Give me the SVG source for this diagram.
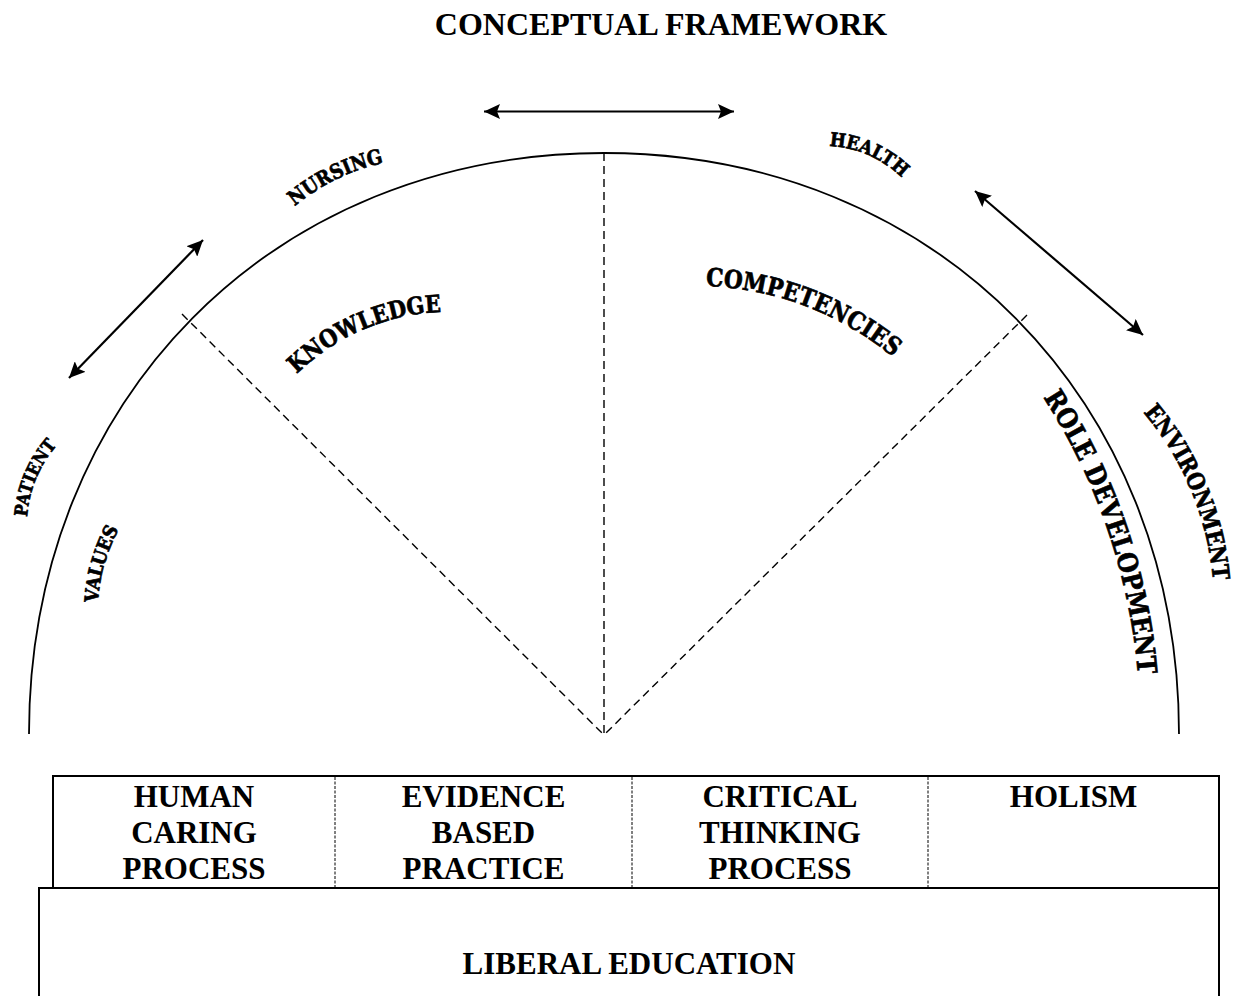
<svg xmlns="http://www.w3.org/2000/svg" width="1233" height="996" viewBox="0 0 1233 996">
<style>
.bg{fill:#fff}
.title{font-family:"Liberation Serif","Times New Roman",serif;font-weight:bold;font-size:32px;text-anchor:middle;fill:#000}
.box{fill:none;stroke:#000;stroke-width:2}
.div{stroke:#000;stroke-width:1;stroke-dasharray:3 1.5}
.bt{font-family:"Liberation Serif","Times New Roman",serif;font-weight:bold;font-size:31px;text-anchor:middle;fill:#000}
.arc{fill:none;stroke:#000;stroke-width:1.8}
.dash{stroke:#000;stroke-width:1.4;stroke-dasharray:8 5;fill:none}
.arrow{stroke:#000;stroke-width:2.2;fill:none;marker-start:url(#ah);marker-end:url(#ah)}
.wa{font-family:"DejaVu Serif",serif;font-weight:bold;fill:#000;stroke:#000;stroke-width:0.7;text-anchor:middle}
</style>
<defs>
<marker id="ah" viewBox="0 0 16 15" refX="16" refY="7.5" markerWidth="16" markerHeight="15" markerUnits="userSpaceOnUse" orient="auto-start-reverse">
<path d="M0,0 L16,7.5 L0,15 L3,7.5 z" fill="#000"/>
</marker>
<path id="p-nursing" d="M295,206 A207,207 0 0 1 383,163"/>
<path id="p-knowledge" d="M297,374 A217,217 0 0 1 441,312"/>
<path id="p-competencies" d="M706,286 A313,313 0 0 1 893,357"/>
<path id="p-health" d="M829,146 A110,110 0 0 1 902,178"/>
<path id="p-patient" d="M27,517 A126,126 0 0 1 57,445"/>
<path id="p-values" d="M98,603 A172.6,172.6 0 0 1 119,529"/>
<path id="p-role" d="M1043,397 A607,607 0 0 1 1138,675"/>
<path id="p-environment" d="M1143,412 A300,300 0 0 1 1213,581"/>
</defs>
<rect class="bg" x="0" y="0" width="1233" height="996"/>

<g id="title">
<text class="title" x="661" y="35">CONCEPTUAL FRAMEWORK</text>
</g>

<g id="arch">
<path class="arc" d="M29,734 C29,399.5 273.4,153 604,153 C934.6,153 1179,399.5 1179,734"/>
</g>

<g id="connectors">
<line class="dash" x1="604" y1="153" x2="604" y2="735"/>
<line class="dash" x1="182" y1="314" x2="604" y2="735"/>
<line class="dash" x1="1027" y1="315" x2="604" y2="735"/>
<line class="arrow" x1="484" y1="111.5" x2="734" y2="111.5"/>
<line class="arrow" x1="69" y1="378" x2="203" y2="240"/>
<line class="arrow" x1="975" y1="191" x2="1143" y2="335"/>
</g>

<g id="label-nursing"><text class="wa" font-size="20.5"><textPath href="#p-nursing" startOffset="50%" textLength="100" lengthAdjust="spacingAndGlyphs">NURSING</textPath></text></g>
<g id="label-knowledge"><text class="wa" font-size="24"><textPath href="#p-knowledge" startOffset="50%" textLength="161" lengthAdjust="spacingAndGlyphs">KNOWLEDGE</textPath></text></g>
<g id="label-competencies"><text class="wa" font-size="25"><textPath href="#p-competencies" startOffset="50%" textLength="204" lengthAdjust="spacingAndGlyphs">COMPETENCIES</textPath></text></g>
<g id="label-health"><text class="wa" font-size="19"><textPath href="#p-health" startOffset="50%" textLength="81" lengthAdjust="spacingAndGlyphs">HEALTH</textPath></text></g>
<g id="label-patient"><text class="wa" font-size="18"><textPath href="#p-patient" startOffset="50%" textLength="79" lengthAdjust="spacingAndGlyphs">PATIENT</textPath></text></g>
<g id="label-values"><text class="wa" font-size="19"><textPath href="#p-values" startOffset="50%" textLength="77" lengthAdjust="spacingAndGlyphs">VALUES</textPath></text></g>
<g id="label-role"><text class="wa" font-size="27"><textPath href="#p-role" startOffset="50%" textLength="296" lengthAdjust="spacingAndGlyphs">ROLE DEVELOPMENT</textPath></text></g>
<g id="label-environment"><text class="wa" font-size="23.5"><textPath href="#p-environment" startOffset="50%" textLength="185" lengthAdjust="spacingAndGlyphs">ENVIRONMENT</textPath></text></g>

<g id="principles">
<rect class="box" x="53" y="776" width="1166" height="112"/>
<line class="div" x1="335" y1="777" x2="335" y2="887"/>
<line class="div" x1="632" y1="777" x2="632" y2="887"/>
<line class="div" x1="928" y1="777" x2="928" y2="887"/>
</g>
<g id="node-human-caring">
<text class="bt" x="194" y="807">HUMAN</text>
<text class="bt" x="194" y="843">CARING</text>
<text class="bt" x="194" y="879">PROCESS</text>
</g>
<g id="node-evidence">
<text class="bt" x="483.5" y="807">EVIDENCE</text>
<text class="bt" x="483.5" y="843">BASED</text>
<text class="bt" x="483.5" y="879">PRACTICE</text>
</g>
<g id="node-critical">
<text class="bt" x="780" y="807">CRITICAL</text>
<text class="bt" x="780" y="843">THINKING</text>
<text class="bt" x="780" y="879">PROCESS</text>
</g>
<g id="node-holism">
<text class="bt" x="1073.5" y="807">HOLISM</text>
</g>
<g id="node-liberal">
<path class="box" d="M39,1000 V888 H1219 V1000"/>
<text class="bt" x="629" y="974" font-size="32">LIBERAL EDUCATION</text>
</g>
</svg>
